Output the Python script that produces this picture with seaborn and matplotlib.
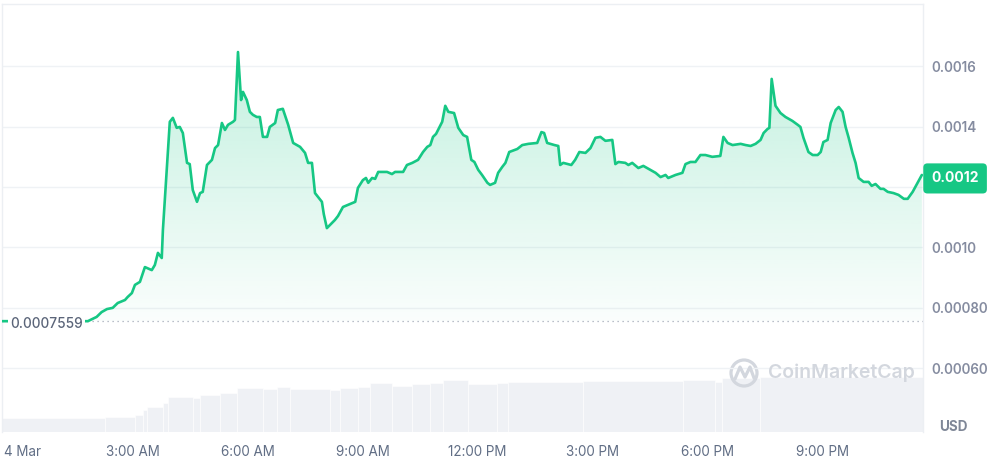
import numpy as np
import pandas as pd
import matplotlib.pyplot as plt
import matplotlib.colors as mcolors
from matplotlib.patches import Circle
from matplotlib.lines import Line2D
from matplotlib.transforms import IdentityTransform, ScaledTranslation
import seaborn as sns

# Price on 4 Mar, hours after midnight
hours = [-0.41, 1.83, 2.06, 2.19, 2.33, 2.48, 2.61, 2.80, 2.87, 2.98, 3.06, 3.19, 3.32, 3.50,
         3.58, 3.66, 3.76, 3.79, 3.97, 4.05, 4.15, 4.23, 4.31, 4.42, 4.49, 4.57, 4.68, 4.76,
         4.83, 4.94, 5.07, 5.15, 5.23, 5.33, 5.41, 5.49, 5.62, 5.67, 5.75, 5.83, 5.88, 5.98,
         6.06, 6.14, 6.24, 6.32, 6.40, 6.51, 6.58, 6.72, 6.79, 6.92, 7.06, 7.19, 7.37, 7.50,
         7.58, 7.68, 7.76, 7.84, 7.94, 7.99, 8.07, 8.28, 8.36, 8.49, 8.62, 8.81, 8.88, 9.01,
         9.09, 9.15, 9.25, 9.33, 9.41, 9.64, 9.77, 9.85, 10.06, 10.16, 10.30, 10.45, 10.58,
         10.69, 10.77, 10.84, 10.92, 11.08, 11.16, 11.24, 11.39, 11.50, 11.63, 11.73, 11.84,
         11.92, 12.02, 12.12, 12.26, 12.33, 12.46, 12.54, 12.65, 12.73, 12.83, 13.04, 13.17,
         13.33, 13.56, 13.67, 13.74, 13.82, 14.01, 14.11, 14.16, 14.24, 14.45, 14.55, 14.66,
         14.82, 14.95, 15.08, 15.21, 15.34, 15.52, 15.60, 15.68, 15.86, 15.94, 16.04, 16.20,
         16.33, 16.51, 16.65, 16.78, 16.91, 16.98, 17.17, 17.35, 17.43, 17.56, 17.69, 17.82,
         17.95, 18.13, 18.34, 18.42, 18.53, 18.66, 18.87, 19.00, 19.13, 19.26, 19.39, 19.47,
         19.57, 19.62, 19.68, 19.78, 19.91, 20.04, 20.22, 20.36, 20.43, 20.51, 20.64, 20.75,
         20.88, 20.96, 21.03, 21.14, 21.22, 21.35, 21.43, 21.53, 21.61, 21.69, 21.79, 21.87,
         21.95, 22.08, 22.21, 22.29, 22.39, 22.52, 22.60, 22.71, 22.86, 22.99, 23.13, 23.23,
         23.36, 23.49, 23.60]
price = [0.0007559, 0.0007559, 0.000770, 0.000786, 0.000796, 0.000800, 0.000816, 0.000826,
         0.000836, 0.000849, 0.000876, 0.000886, 0.000935, 0.000925, 0.000942, 0.000982,
         0.000965, 0.001058, 0.001416, 0.001429, 0.001396, 0.001399, 0.001379, 0.001280,
         0.001276, 0.001190, 0.001151, 0.001180, 0.001184, 0.001273, 0.001290, 0.001329,
         0.001339, 0.001412, 0.001389, 0.001406, 0.001416, 0.001422, 0.001647, 0.001488,
         0.001515, 0.001488, 0.001449, 0.001439, 0.001432, 0.001432, 0.001366, 0.001366,
         0.001399, 0.001412, 0.001455, 0.001459, 0.001406, 0.001346, 0.001333, 0.001313,
         0.001280, 0.001280, 0.001180, 0.001167, 0.001151, 0.001110, 0.001064, 0.001091,
         0.001104, 0.001134, 0.001141, 0.001151, 0.001197, 0.001223, 0.001230, 0.001214,
         0.001230, 0.001227, 0.001250, 0.001250, 0.001243, 0.001250, 0.001250, 0.001273,
         0.001280, 0.001290, 0.001316, 0.001333, 0.001339, 0.001366, 0.001376, 0.001416,
         0.001469, 0.001449, 0.001445, 0.001396, 0.001372, 0.001366, 0.001290, 0.001283,
         0.001257, 0.001240, 0.001214, 0.001207, 0.001214, 0.001247, 0.001267, 0.001280,
         0.001316, 0.001326, 0.001339, 0.001343, 0.001346, 0.001382, 0.001379, 0.001346,
         0.001339, 0.001336, 0.001273, 0.001280, 0.001273, 0.001290, 0.001316, 0.001313,
         0.001329, 0.001363, 0.001366, 0.001353, 0.001356, 0.001276, 0.001283, 0.001280,
         0.001273, 0.001280, 0.001263, 0.001270, 0.001257, 0.001247, 0.001233, 0.001240,
         0.001230, 0.001240, 0.001247, 0.001276, 0.001283, 0.001283, 0.001306, 0.001306,
         0.001300, 0.001303, 0.001366, 0.001346, 0.001339, 0.001343, 0.001339, 0.001336,
         0.001343, 0.001356, 0.001379, 0.001392, 0.001396, 0.001558, 0.001469, 0.001445,
         0.001432, 0.001419, 0.001406, 0.001399, 0.001363, 0.001316, 0.001306, 0.001306,
         0.001316, 0.001349, 0.001356, 0.001412, 0.001455, 0.001465, 0.001449, 0.001399,
         0.001363, 0.001313, 0.001280, 0.001230, 0.001217, 0.001217, 0.001204, 0.001210,
         0.001194, 0.001194, 0.001184, 0.001180, 0.001174, 0.001161, 0.001161, 0.001184,
         0.001214, 0.001240]

open_price = 0.0007559
open_label = "0.0007559"
last_label = "0.0012"

# 24h volume (arbitrary $K), step levels between these hour edges
vol_edges = [-0.41, 2.28, 3.06, 3.27, 3.37, 3.79, 3.92, 4.58, 4.76, 5.28, 5.72, 6.40, 6.77,
             7.11, 8.15, 8.41, 8.88, 9.19, 9.77, 10.29, 10.76, 11.10, 11.75, 12.51, 12.80,
             14.75, 17.36, 18.20, 18.38, 19.37, 23.63]
vol_k = [140, 150, 170, 220, 250, 290, 350, 340, 370, 390, 440, 430, 450, 430, 420, 440,
         450, 490, 460, 480, 490, 520, 480, 490, 500, 510, 520, 500, 540, 550]

x_ticks = [0, 3, 6, 9, 12, 15, 18, 21]
x_labels = ["4 Mar", "3:00 AM", "6:00 AM", "9:00 AM", "12:00 PM", "3:00 PM", "6:00 PM", "9:00 PM"]
y_ticks = [0.0006, 0.0008, 0.0010, 0.0012, 0.0014, 0.0016]
y_labels = ["0.00060", "0.00080", "0.0010", "0.0012", "0.0014", "0.0016"]

GREEN = "#16c784"

sns.set_theme(style="white")
plt.rcParams['font.family'] = ['Inter', 'DejaVu Sans']

fig = plt.figure(figsize=(9.93, 4.58), dpi=100, facecolor="white")
ax = fig.add_axes([2 / 993, 26 / 458, 921 / 993, 428 / 458])
ax_vol = ax.twinx()
ax.set_zorder(ax_vol.get_zorder() + 1)
ax.patch.set_visible(False)

# volume bars
ax_vol.bar(vol_edges[:-1], vol_k, width=np.diff(vol_edges), align="edge",
           color="#eff1f5", edgecolor="white", linewidth=0.4)
ax_vol.set_ylim(0, 4280)
ax_vol.set_yticks([])
for s in ax_vol.spines.values():
    s.set_visible(False)

# price line + gradient fill down to the open price
df = pd.DataFrame({"hour": hours, "price": price})
sns.lineplot(data=df, x="hour", y="price", ax=ax, color=GREEN, linewidth=1.9, zorder=4)

poly = ax.fill_between(hours, price, open_price, facecolor="none", edgecolor="none")
grad = np.zeros((256, 1, 4))
grad[..., :3] = mcolors.to_rgb(GREEN)
grad[..., 3] = np.linspace(0.02, 0.26, 256)[:, None]
im = ax.imshow(grad, aspect="auto", origin="lower", zorder=2,
               extent=[hours[0], hours[-1], open_price, max(price)])
im.set_clip_path(poly.get_paths()[0], transform=ax.transData)

ax.axhline(open_price, color="#a3abb8", linestyle=(0, (1, 3)), linewidth=0.9, zorder=3)

ax.set_xlim(-0.41, 23.63)
ax.set_ylim(0.000389, 0.001806)

ax.set_xticks(x_ticks, x_labels)
ax.yaxis.tick_right()
ax.set_yticks(y_ticks, y_labels)
ax.grid(axis="y", color="#eff2f5", linewidth=1)
ax.set_axisbelow(True)
ax.tick_params(axis="x", length=0, pad=9, labelsize=9.7, labelcolor="#616e85")
ax.tick_params(axis="y", length=0, pad=6, labelsize=9.7, labelcolor="#858ca0")
for t in ax.get_yticklabels():
    t.set_fontweight("semibold")
first = ax.get_xticklabels()[0]
first.set_transform(first.get_transform() + ScaledTranslation(4.5 / 100, 0, fig.dpi_scale_trans))
ax.set_xlabel("")
ax.set_ylabel("")
for side in ["top", "left", "right"]:
    ax.spines[side].set_color("#eceff3")
    ax.spines[side].set_linewidth(1)
ax.spines["bottom"].set_visible(False)

# labels for open and last price
ax.annotate(open_label, xy=(0, open_price), xycoords=("axes fraction", "data"),
            xytext=(6, -2), textcoords="offset points", ha="left", va="center",
            fontsize=9.8, color="#5b6579", fontweight="medium", zorder=6,
            bbox=dict(boxstyle="square,pad=0.15", facecolor="white", edgecolor="none"))
ax.annotate(last_label, xy=(1, price[-1]), xycoords=("axes fraction", "data"),
            xytext=(6, -2.5), textcoords="offset points", ha="left", va="center",
            fontsize=10, color="white", fontweight="bold", zorder=7, annotation_clip=False,
            bbox=dict(boxstyle="round,pad=0.58,rounding_size=0.3", facecolor=GREEN, edgecolor="none"))

fig.text(953 / 993, (458 - 427) / 458, "USD", ha="center", va="center",
         fontsize=9.7, fontweight="bold", color="#7f8797")

# watermark
wm = "#d3d7de"
fig.text(768 / 993, (458 - 373) / 458, "CoinMarketCap", ha="left", va="center",
         fontsize=14, fontweight="semibold", color=wm)
fig.add_artist(Circle((744, 85), 13, transform=IdentityTransform(), fill=False,
                      edgecolor=wm, linewidth=2.3))
fig.add_artist(Line2D([735, 740, 745, 750, 754], [79, 91, 81, 91, 80], transform=IdentityTransform(),
                      color=wm, linewidth=2.3, solid_joinstyle="round"))

fig.savefig("out.png", dpi=100)
